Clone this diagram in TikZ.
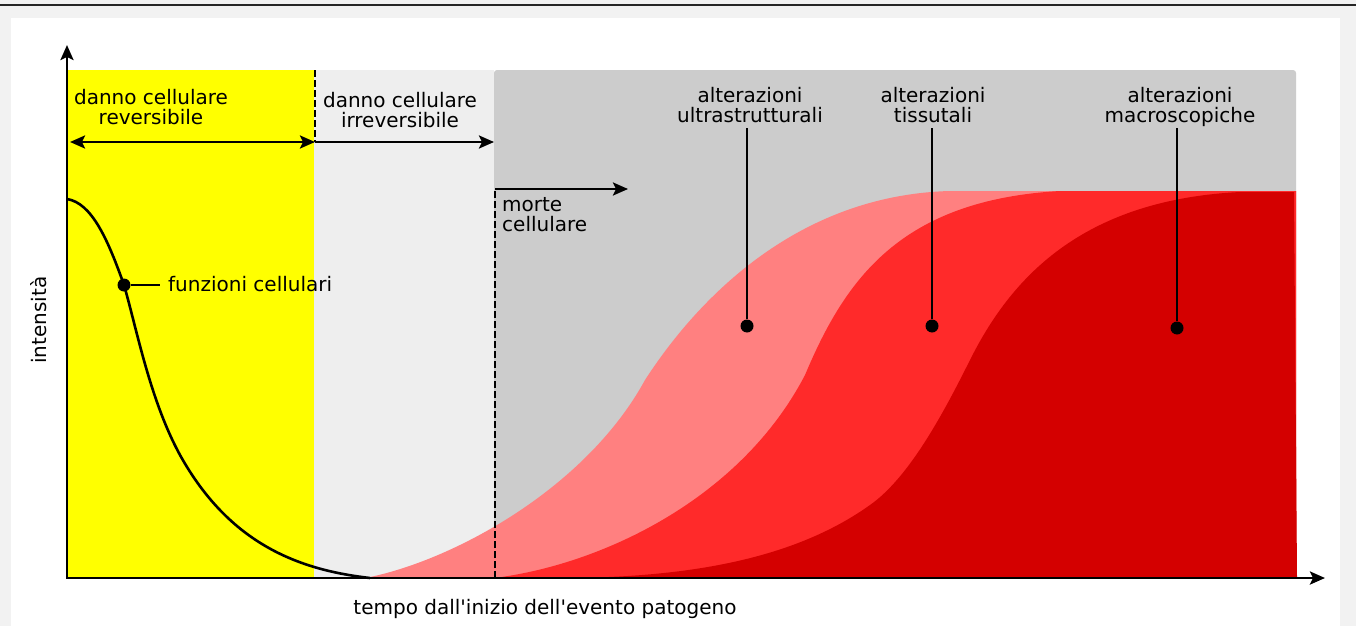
\documentclass[tikz,border=0pt]{standalone}
\usepackage{fontspec}
\setmainfont{DejaVu Sans}
\usetikzlibrary{arrows.meta}
\definecolor{fondo}{HTML}{F2F2F2}
\definecolor{giallo}{HTML}{FFFF00}
\definecolor{grigiochiaro}{HTML}{EEEEEE}
\definecolor{grigio}{HTML}{CCCCCC}
\definecolor{rosa}{HTML}{FF8080}
\definecolor{rosso}{HTML}{FF2A2A}
\definecolor{rossoscuro}{HTML}{D40000}
\tikzset{
  punta/.tip={Stealth[length=15pt,width=13pt,inset=3pt]},
  linea/.style={line width=2.6pt},
  tratteggio/.style={line width=2.4pt, dash pattern=on 7pt off 3pt},
  etichetta/.style={font=\fontsize{20}{20}\selectfont, inner sep=0pt, align=center},
  punto/.style={circle, fill=black, inner sep=0pt, minimum size=13pt},
}

\begin{document}
\begin{tikzpicture}[x=1pt,y=-1pt]
    \useasboundingbox (0,0) rectangle (1356,626);
    \fill[fondo] (0,0) rectangle (1356,626);
    \draw[line width=2pt, black!85] (0,5) -- (1356,5);
    \fill[white] (11,18) rectangle (1340,626);
    %fasi
    \fill[giallo] (67,70) rectangle (314,578);
    \fill[grigiochiaro] (314,70) rectangle (494,578);
    \fill[grigio, rounded corners=3pt] (494,70) rectangle (1296,578);
    %alterazioni
    \fill[rosa] (365,578) .. controls (450,562) and (585,490) .. (645,380)
        .. controls (700,295) and (800,195) .. (950,191) -- (1296,191) -- (1296,578) -- cycle;
    \fill[rosso] (494,578) .. controls (600,565) and (740,500) .. (805,375)
        .. controls (845,280) and (900,200) .. (1060,191) -- (1296,191) -- (1296,578) -- cycle;
    \fill[rossoscuro] (560,578) .. controls (700,578) and (800,555) .. (870,505)
        .. controls (910,477) and (945,410) .. (970,360)
        .. controls (1010,280) and (1080,200) .. (1240,192) -- (1294,192) -- (1297,578) -- cycle;
    %funzioni cellulari
    \draw[linea] (67,199) .. controls (92,203) and (108,240) .. (124,285)
        .. controls (137,330) and (150,400) .. (180,455)
        .. controls (230,545) and (300,570) .. (370,578);
    %assi
    \draw[linea, punta-punta] (67,45) -- (67,578) -- (1325,578);
    \node[etichetta, rotate=90, anchor=base] (asse y) at (46,320) {intensità};
    \node[etichetta, anchor=base] (asse x) at (545,614) {tempo dall\textquotesingle inizio dell\textquotesingle evento patogeno};
    %danno
    \coordinate (inizio) at (70,142);
    \coordinate (soglia) at (315,142);
    \coordinate (fine) at (494,142);
    \coordinate (morte) at (495,189);
    \coordinate (dopo) at (628,189);
    \coordinate (cima) at (0,128);
    \draw[tratteggio] (315,70) -- (soglia);
    \draw[tratteggio] (495,578) -- (morte);
    \draw[linea, punta-punta] (inizio) -- (soglia);
    \draw[linea, -punta] (soglia) -- (fine);
    \draw[linea, -punta] (morte) -- (dopo);
    \node[etichetta, anchor=north] (reversibile) at (151,88.8) {danno cellulare\\reversibile};
    \node[etichetta, anchor=north] (irreversibile) at (400,92.3) {danno cellulare\\irreversibile};
    \node[etichetta, align=left, anchor=north west] (morte cellulare) at (502,197.5) {morte\\cellulare};
    \node[punto] (fc) at (124,285) {};
    \node[etichetta, anchor=base west] (funzioni) at (168,291) {funzioni cellulari};
    \draw[linea, shorten >=8pt] (fc) -- (fc -| funzioni.west);
    \foreach \lx/\dx/\dy/\n/\txt in {750/747/326/u/{alterazioni\\ultrastrutturali}, 933/932/326/t/{alterazioni\\tissutali}, 1180/1177/328/m/{alterazioni\\macroscopiche}} {
        \node[etichetta, anchor=north] (l\n) at (\lx,87) {\txt};
        \node[punto] (d\n) at (\dx,\dy) {};
        \draw[linea] (d\n) -- (d\n |- cima);}
\end{tikzpicture}
\end{document}
